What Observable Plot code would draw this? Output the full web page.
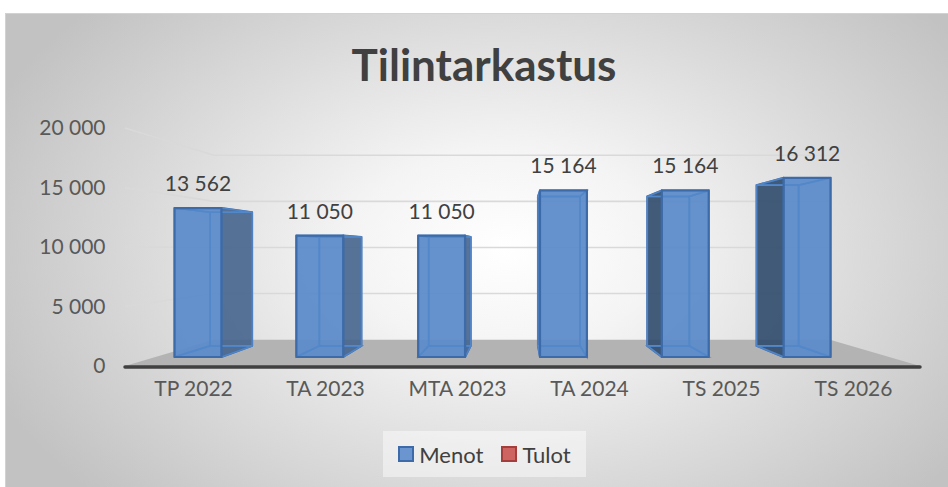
<!DOCTYPE html>
<html><head><meta charset="utf-8">
<script src="https://cdn.jsdelivr.net/npm/d3@7"></script>
<script src="https://cdn.jsdelivr.net/npm/@observablehq/plot@0.6"></script>
<style>
html,body{margin:0;padding:0;background:#fff;}
#wrap{position:relative;width:948px;height:487px;overflow:hidden;font-family:Lato,sans-serif;}
#frame{position:absolute;left:5px;top:13px;width:960px;height:490px;border:1px solid #d2d2d2;
  background:radial-gradient(ellipse 58% 74% at 52% 48%, #ffffff 0%, #f4f4f4 28%, #dcdcdc 62%, #c2c2c2 100%);}
#title{position:absolute;left:484px;top:42px;transform:translateX(-50%);font:700 44px/44px Lato,sans-serif;color:#404040;white-space:nowrap;}
#chart{position:absolute;left:0;top:0;}
#legend{position:absolute;left:383px;top:431px;width:203px;height:46px;background:rgba(255,255,255,0.45);
  display:flex;align-items:center;justify-content:center;gap:18px;font:400 22px Lato,sans-serif;color:#404040;}
#legend .item{display:flex;align-items:center;gap:5px;}
#legend .sw{width:12px;height:12px;border:2px solid;}
</style></head><body>
<div id="wrap"><div id="frame"></div><div id="title">Tilintarkastus</div><div id="chart"></div><div id="legend"></div></div>
<script>
const categories = ["TP 2022", "TA 2023", "MTA 2023", "TA 2024", "TS 2025", "TS 2026"];
const menot = [13562, 11050, 11050, 15164, 15164, 16312];
const seriesNames = ["Menot", "Tulot"];
const seriesFill = ["#6a95cf", "#cd6462"];
const seriesStroke = ["#3d6aa8", "#a33e3c"];
const yTicks = [0, 5000, 10000, 15000, 20000];

const fmt = v => d3.format(",")(v).replace(/,/g, "\u00a0");
const rows = categories.map((c, i) => ({category: c, value: menot[i]}));

function scene3d(index, scales, values, dim, context) {
  const x = scales.x, y = scales.y;
  const bw = typeof x.bandwidth === "function" ? x.bandwidth() : x.bandwidth;
  const VP = [520, 249];
  const KW = 0.225, K1 = 0.077, K2 = 0.172;
  const P = (px, py, k) => [px + (VP[0] - px) * k, py + (VP[1] - py) * k];
  const [xl, xr] = x.range();
  const yb = y(0);
  const pts = a => a.map(p => p[0].toFixed(2) + "," + p[1].toFixed(2)).join(" ");
  const g = d3.create("svg:g");
  for (const t of yTicks) {
    if (t === 0) continue;
    const a = [xl, y(t)], b = P(xl, y(t), KW), c = P(xr, y(t), KW);
    g.append("polyline").attr("points", pts([a, b, [c[0], b[1]]]))
      .attr("fill", "none").attr("stroke", "#d9d9d9").attr("stroke-width", 1.6);
  }
  g.append("polygon").attr("points", pts([[xl, yb], [xr, yb], P(xr, yb, KW), P(xl, yb, KW)]))
    .attr("fill", "#b3b3b3");
  g.append("line").attr("x1", xl).attr("x2", xr).attr("y1", yb + 1).attr("y2", yb + 1)
    .attr("stroke", "#404040").attr("stroke-width", 3.5).attr("stroke-linecap", "round");
  for (const d of rows) {
    const cx = x(d.category) + bw / 2 - bw * 0.166;
    const hw = bw * 0.1925;
    const xa = cx - hw, xb = cx + hw, yt = y(d.value);
    const F = k => ({TL: P(xa, yt, k), TR: P(xb, yt, k), BR: P(xb, yb, k), BL: P(xa, yb, k)});
    const f = F(K1), b = F(K2);
    const back = [b.TL, b.TR, b.BR, b.BL];
    const left = [f.TL, b.TL, b.BL, f.BL];
    const right = [f.TR, b.TR, b.BR, f.BR];
    const top = [f.TL, f.TR, b.TR, b.TL];
    const bottom = [f.BL, f.BR, b.BR, b.BL];
    const front = [f.TL, f.TR, f.BR, f.BL];
    const rightVis = VP[0] > xb, leftVis = VP[0] < xa;
    const hidden = [back, top, bottom];
    if (rightVis) {
      hidden.push(left);
      g.append("polygon").attr("points", pts(right)).attr("fill", "#45658d").attr("fill-opacity", 0.9)
        .attr("stroke", "#3d6aa8").attr("stroke-width", 2).attr("stroke-linejoin", "round");
    } else if (leftVis) {
      hidden.push(right);
      g.append("polygon").attr("points", pts(left)).attr("fill", "#2e4a6c").attr("fill-opacity", 0.9)
        .attr("stroke", "#3d6aa8").attr("stroke-width", 2).attr("stroke-linejoin", "round");
    } else { hidden.push(left, right); }
    g.append("polygon").attr("points", pts(front)).attr("fill", "#5d8cca").attr("fill-opacity", 0.95);
    for (const h of hidden) {
      g.append("polygon").attr("points", pts(h)).attr("fill", "none")
        .attr("stroke", "#5287c9").attr("stroke-width", 1.6).attr("stroke-opacity", 0.9);
    }
    g.append("polygon").attr("points", pts(front)).attr("fill", "none")
      .attr("stroke", "#3d6aa8").attr("stroke-width", 2.2).attr("stroke-linejoin", "round");
    g.append("text").attr("x", (f.TL[0] + f.TR[0]) / 2).attr("y", f.TL[1] - 17)
      .attr("text-anchor", "middle").attr("fill", "#404040").attr("font-size", 21)
      .text(fmt(d.value));
  }
  return g.node();
}

const chart = Plot.plot({
  width: 948,
  height: 487,
  marginTop: 128,
  marginBottom: 121,
  marginLeft: 125,
  marginRight: 28,
  x: {type: "band", domain: categories, padding: 0},
  y: {domain: [0, 20000]},
  style: {background: "transparent", fontFamily: "Lato, sans-serif", fontSize: "21px", color: "#595959", overflow: "visible"},
  marks: [
    scene3d,
    Plot.axisY(yTicks, {tickSize: 0, tickPadding: 20, tickFormat: fmt, label: null}),
    Plot.axisX(categories, {tickSize: 0, tickPadding: 15, label: null})
  ]
});
document.getElementById("chart").append(chart);

const legend = document.getElementById("legend");
seriesNames.forEach((n, i) => {
  const it = document.createElement("div"); it.className = "item";
  const sw = document.createElement("div"); sw.className = "sw";
  sw.style.background = seriesFill[i]; sw.style.borderColor = seriesStroke[i];
  const tx = document.createElement("span"); tx.textContent = n;
  it.append(sw, tx); legend.append(it);
});
</script>
</body></html>
